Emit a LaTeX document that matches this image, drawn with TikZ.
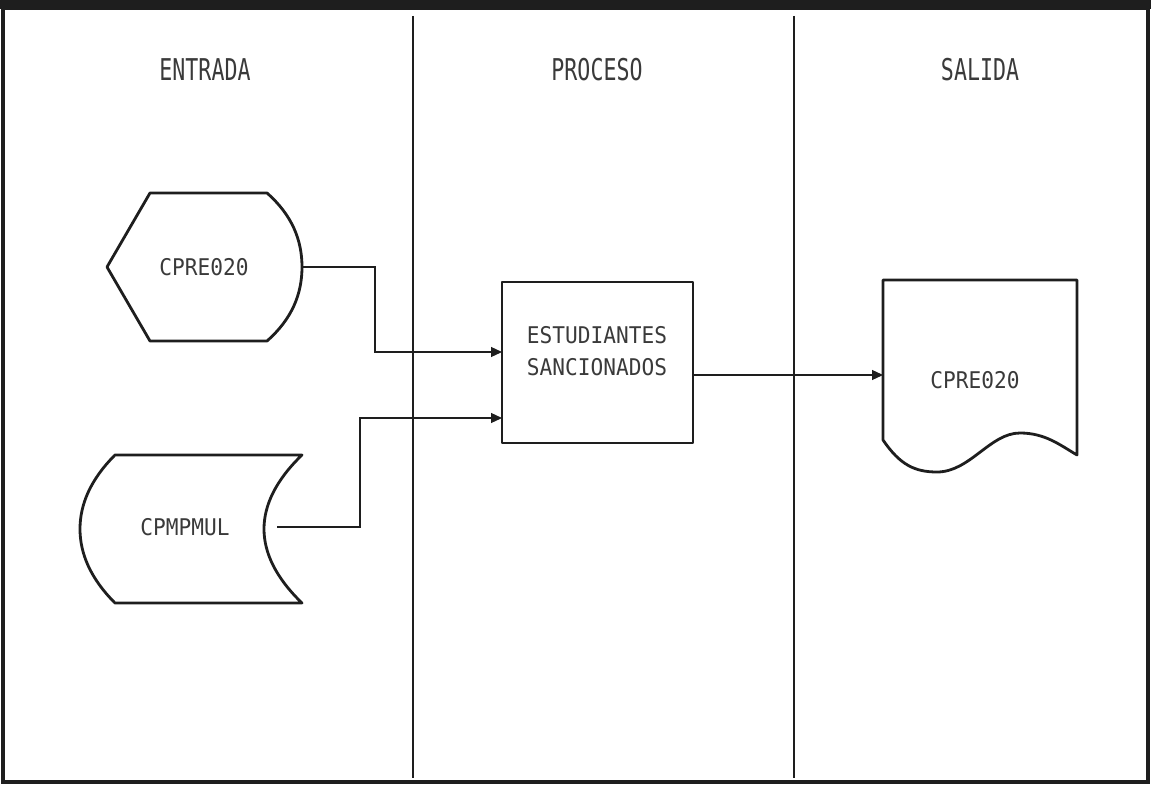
\documentclass[tikz,border=0pt]{standalone}
\usepackage{fontspec}
\usetikzlibrary{arrows.meta}
\newfontfamily\plotfont[FakeStretch=0.92]{DejaVu Sans Mono}
\newfontfamily\headfont[FakeStretch=0.72]{DejaVu Sans Mono}
\begin{document}
\begin{tikzpicture}[x=0.5pt,y=-0.5pt,
  shapeline/.style={color0,line width=1.4pt,line join=round},
  flow/.style={color0,line width=0.6pt,-{Triangle[length=5.5pt,width=5pt]}},
  lane/.style={color0,line width=0.6pt},
  head/.style={color1,font=\headfont\fontsize{15}{18}\selectfont},
  lbl/.style={color1,align=center,font=\plotfont\fontsize{11.5}{16}\selectfont}]
\definecolor{color0}{HTML}{1E1E1E}
\definecolor{color1}{HTML}{3A3A3A}
\useasboundingbox (0,0) rectangle (1151,786);
% frame and lanes
\fill[color0] (0,0) rectangle (1151,9);
\draw[color0,line width=1.6pt] (3,8) rectangle (1148,782);
\draw[lane] (413,16) -- (413,778);
\draw[lane] (794,16) -- (794,778);
\node[head] (h-in) at (205,70) {ENTRADA};
\node[head] (h-proc) at (597,70) {PROCESO};
\node[head] (h-out) at (980,70) {SALIDA};
% input: display
\draw[shapeline] (150,193) -- (267,193) .. controls (292,215) and (302,240) .. (302,267)
  .. controls (302,294) and (292,319) .. (267,341) -- (150,341) -- (107,267) -- cycle;
\node[lbl] (disp) at (204,267) {CPRE020};
\coordinate (disp-e) at (302,267);
% input: stored data
\draw[shapeline] (115,455) -- (302,455) .. controls (276,480) and (264,505) .. (264,529)
  .. controls (264,553) and (276,578) .. (302,603) -- (115,603)
  .. controls (90,578) and (80,553) .. (80,529) .. controls (80,505) and (90,480) .. (115,455) -- cycle;
\node[lbl] (store) at (185,527) {CPMPMUL};
\coordinate (store-e) at (277,527);
% process
\node[shapeline,draw,minimum width=95.5pt,minimum height=80.5pt] (proc) at (597.5,362.5) {};
\node[lbl] (proc-text) at (597,351) {ESTUDIANTES\\SANCIONADOS};
\coordinate (proc-in1) at (502,352);
\coordinate (proc-in2) at (502,418);
\coordinate (proc-out) at (693,375);
% output: document
\draw[shapeline] (883,280) -- (1077,280) -- (1077,455) .. controls (1060,445) and (1045,433) .. (1020,433)
  .. controls (990,433) and (970,472) .. (937,472) .. controls (915,472) and (900,465) .. (883,440) -- cycle;
\node[lbl] (doc) at (975,380) {CPRE020};
\coordinate (doc-w) at (883,375);
% connectors
\draw[flow] (disp-e) -- (375,267) |- (proc-in1);
\draw[flow] (store-e) -- (360,527) |- (proc-in2);
\draw[flow] (proc-out) -- (doc-w);
\end{tikzpicture}
\end{document}
